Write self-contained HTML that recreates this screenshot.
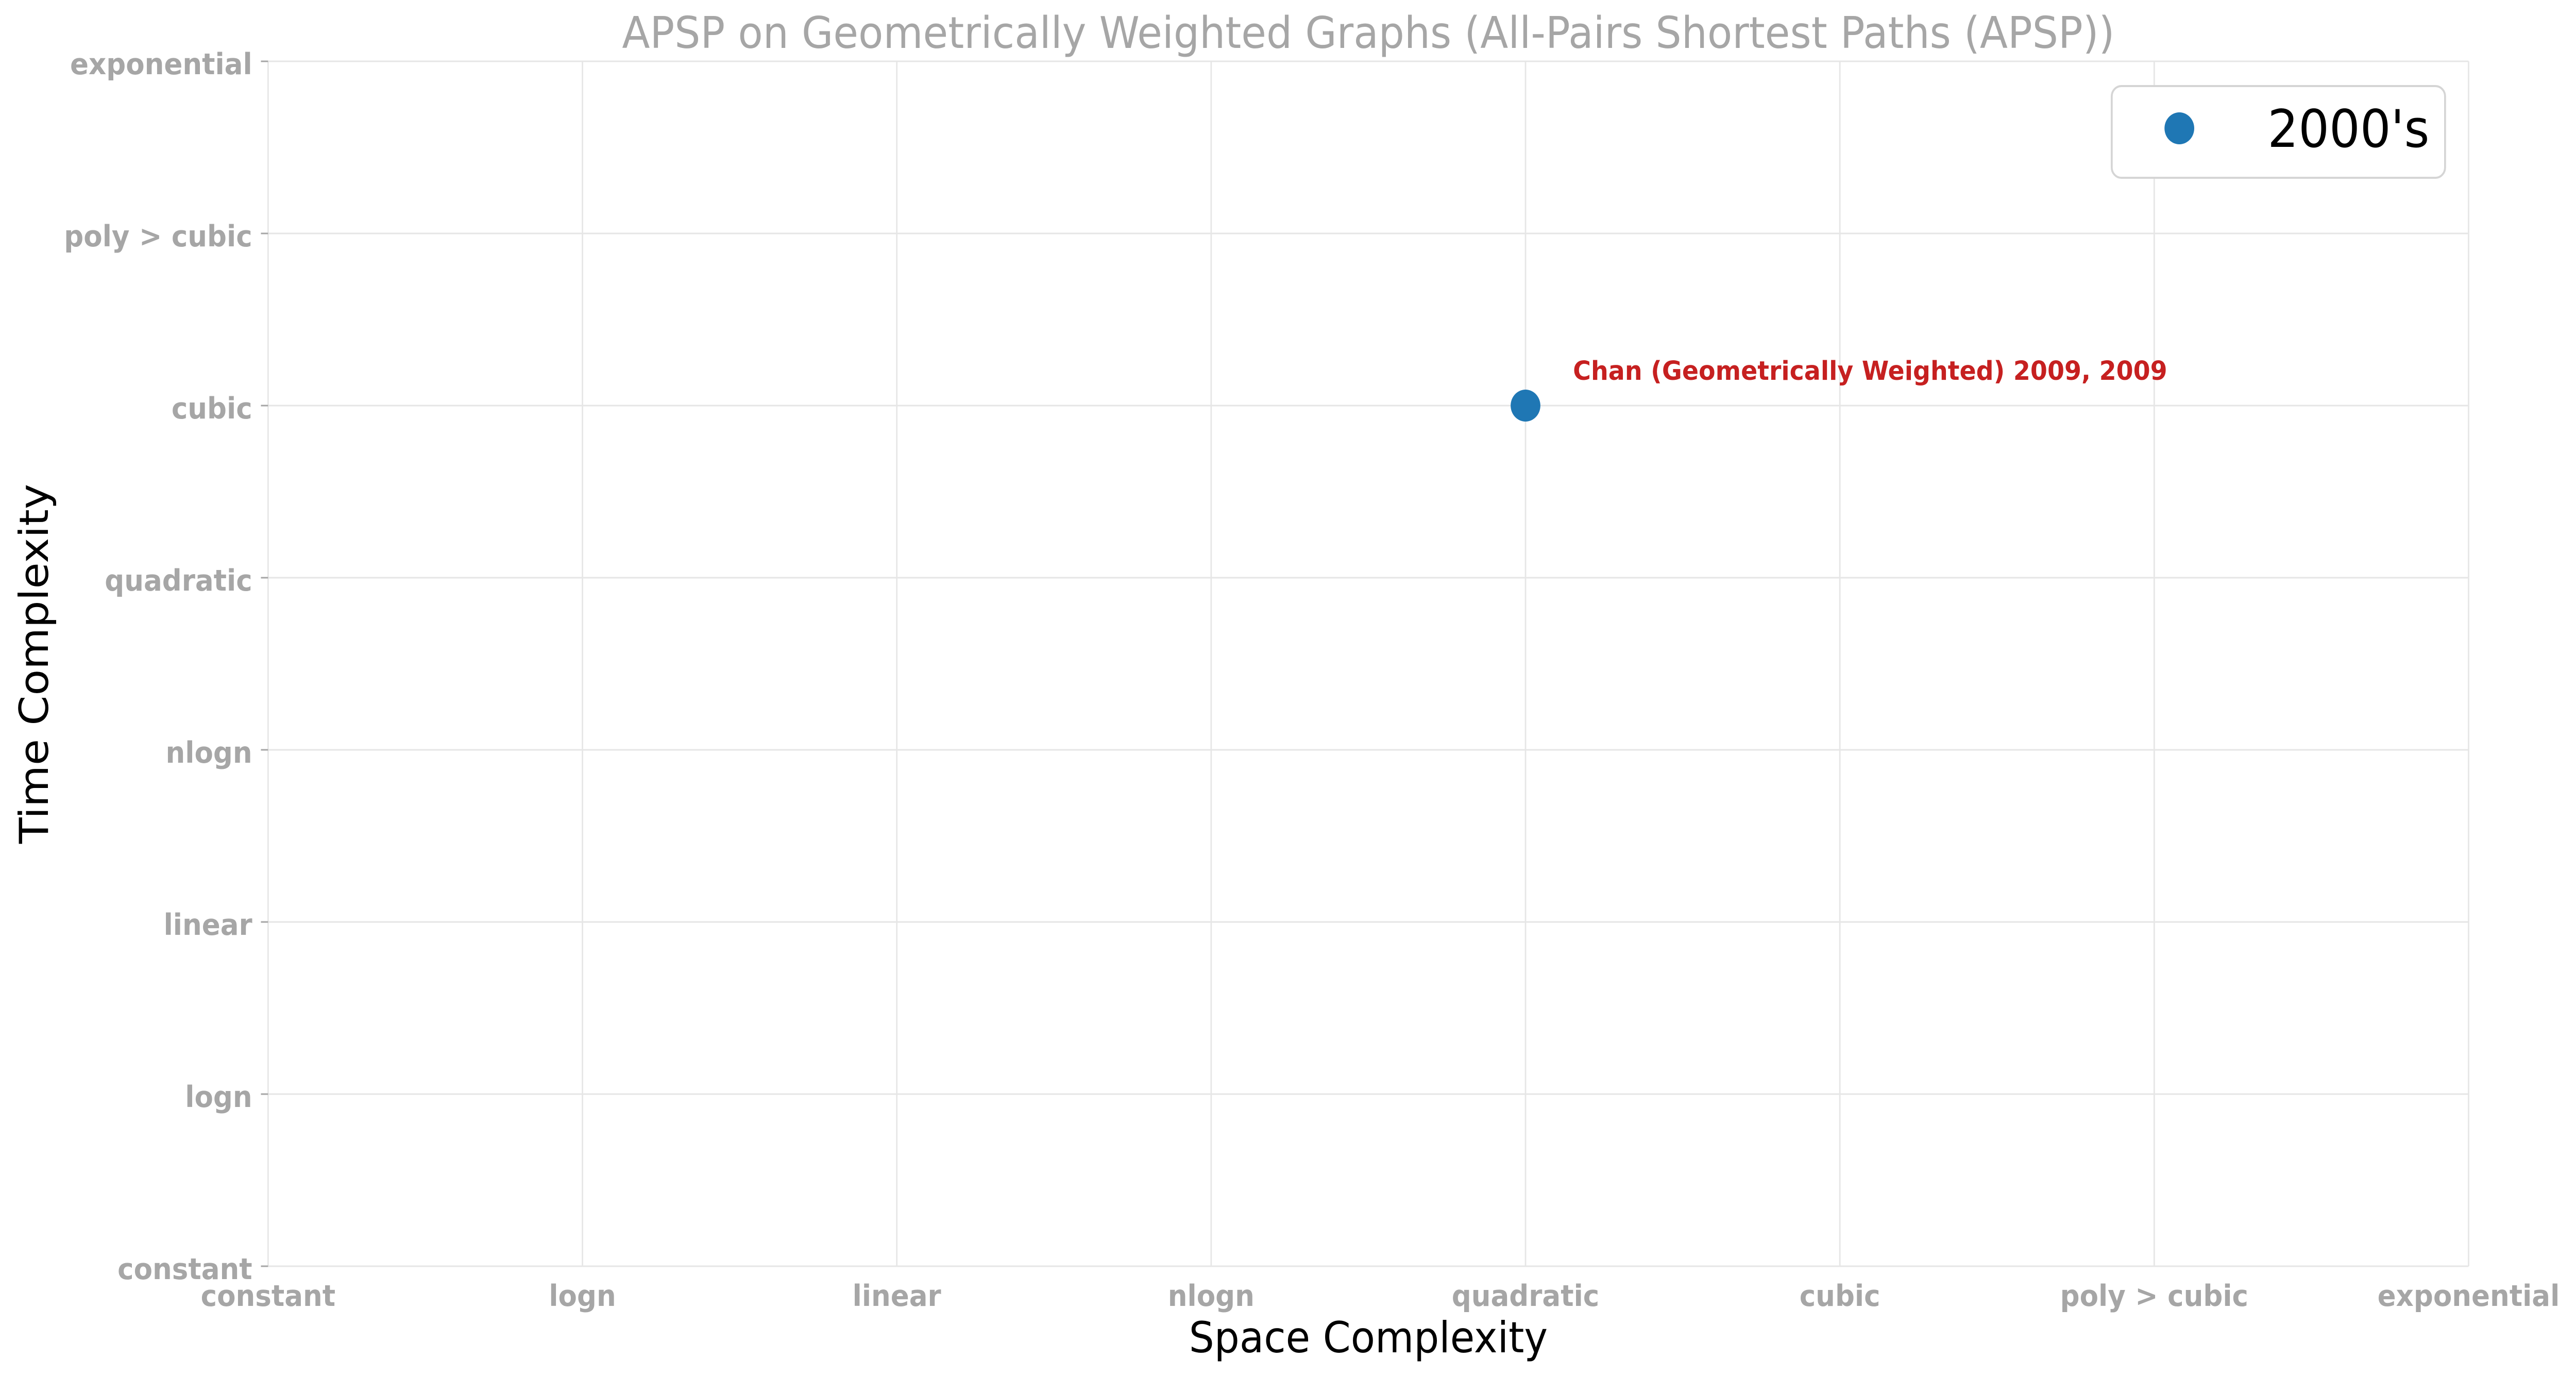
<!DOCTYPE html>
<html><head><meta charset="utf-8"><style>html,body{margin:0;padding:0;background:#fff;overflow:hidden;width:100%;height:100%}svg{display:block;width:100vw;height:100vh}text{font-family:"DejaVu Sans","Liberation Sans",sans-serif}</style></head>
<body>
<svg id="chart" viewBox="0 0 5371 2670" preserveAspectRatio="none" xmlns="http://www.w3.org/2000/svg">
<rect width="5371" height="2670" fill="#fff"/>
<text x="2853" y="93" text-anchor="middle" font-size="85" fill="#a6a6a6">APSP on Geometrically Weighted Graphs (All-Pairs Shortest Paths (APSP))</text>
<g id="grid"></g>
<g id="ticks"></g>
<g id="marks"></g>
<text x="2853" y="2624" text-anchor="middle" font-size="83" fill="#000">Space Complexity</text>
<text transform="translate(100,1288) rotate(-90)" text-anchor="middle" font-size="83" fill="#000">Time Complexity</text>
<g>
<rect x="4403" y="167" width="695" height="178" rx="20" fill="#fff" stroke="#d5d5d5" stroke-width="4"/>
<circle cx="4544" cy="249" r="31" fill="#1f77b4"/>
<text x="4728" y="285" font-size="101" fill="#000">2000's</text>
</g>
</svg>
<script>
const categories = ["constant","logn","linear","nlogn","quadratic","cubic","poly > cubic","exponential"];
const pointSpace = [4];
const pointTime = [5];
const pointLabels = ["Chan (Geometrically Weighted) 2009, 2009"];
const L=559,R=5147,T=119,B=2457;
const xs=v=>L+(R-L)*v/7, ys=v=>B-(B-T)*v/7;
const NS="http://www.w3.org/2000/svg";
function mk(tag,attrs,parent,txt){const e=document.createElementNS(NS,tag);for(const k in attrs)e.setAttribute(k,attrs[k]);if(txt!==undefined)e.textContent=txt;parent.appendChild(e);return e;}
const grid=document.getElementById('grid'),ticks=document.getElementById('ticks'),marks=document.getElementById('marks');
categories.forEach((c,i)=>{
  const gv=mk('line',{x1:xs(i),x2:xs(i),y1:T,y2:B,stroke:'#e6e6e6','stroke-width':3},grid);
  
  
  const gh=mk('line',{x1:L,x2:R,y1:ys(i),y2:ys(i),stroke:'#e6e6e6','stroke-width':3},grid);
  
  
  const tm=mk('line',{x1:544,x2:L,y1:ys(i),y2:ys(i),stroke:'#a6a6a6','stroke-width':3},ticks);
  
  
  const yt=mk('text',{x:526,y:ys(i)+25,'text-anchor':'end','font-size':57,'font-weight':'bold',fill:'#a6a6a6'},ticks,c);
  
  
  const xt=mk('text',{x:xs(i),y:2534,'text-anchor':'middle','font-size':57,'font-weight':'bold',fill:'#a6a6a6'},ticks,c);
  
  
});
pointSpace.forEach((s,i)=>{
  const p=mk('circle',{cx:xs(s),cy:ys(pointTime[i]),r:31,fill:'#1f77b4'},marks);
  
  
  const t=mk('text',{x:xs(s)+99,y:ys(pointTime[i])-50,'font-size':51,'font-weight':'bold',fill:'#c62020'},marks,pointLabels[i]);
  
  
});
</script>
</body></html>
